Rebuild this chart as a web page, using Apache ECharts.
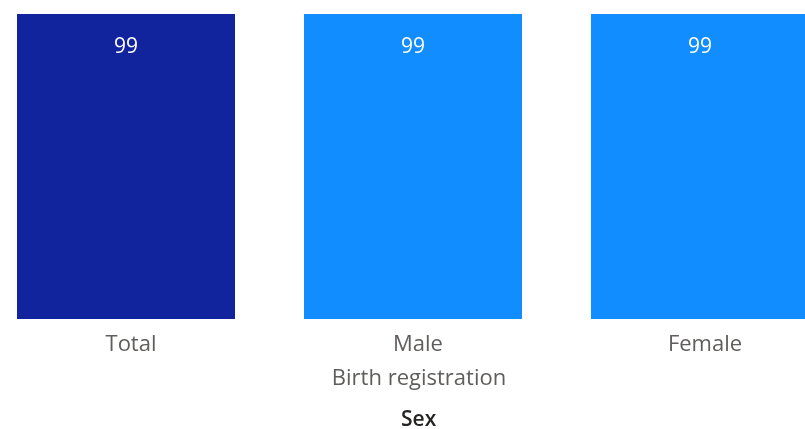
<!DOCTYPE html>
<html>
<head>
<meta charset="utf-8">
<script src="https://cdn.jsdelivr.net/npm/echarts@6/dist/echarts.min.js"></script>
<style>html,body{margin:0;padding:0;background:#fff}#c{width:805px;height:429px}</style>
</head>
<body>
<div id="c"></div>
<script>
const categories = ['Total', 'Male', 'Female'];
const values = [99, 99, 99];
const barColors = ['#12239E', '#118DFF', '#118DFF'];
const axisTitle = 'Birth registration';
const legendTitle = 'Sex';

const FONT = 'Open Sans';
const chart = echarts.init(document.getElementById('c'), null, {renderer: 'canvas'});
chart.setOption({
  animation: false,
  title: {
    text: legendTitle,
    left: 396,
    top: 405,
    textStyle: {fontFamily: FONT, fontSize: 21, fontWeight: 600, color: '#252423'}
  },
  grid: {left: -17.5, width: 861, top: 11, height: 308, outerBoundsMode: 'none', containLabel: false},
  xAxis: {
    type: 'category',
    data: categories,
    axisLine: {show: false},
    axisTick: {show: false},
    axisLabel: {fontFamily: FONT, fontSize: 22, color: '#605E5C', margin: 15, padding: [0, 0, 0, 10]},
    name: axisTitle,
    nameLocation: 'middle',
    nameGap: 49,
    nameTextStyle: {fontFamily: FONT, fontSize: 22, color: '#605E5C', padding: [0, 0, 0, 12]}
  },
  yAxis: {
    type: 'value', min: 0, max: 100,
    show: false,
    splitLine: {show: false}
  },
  series: [{
    type: 'bar',
    barWidth: 218,
    data: values.map((v, i) => ({value: v, itemStyle: {color: barColors[i]}})),
    label: {
      show: true, position: 'insideTop', distance: 22,
      fontFamily: FONT, fontSize: 21, color: '#ffffff'
    }
  }]
});
</script>
</body>
</html>
